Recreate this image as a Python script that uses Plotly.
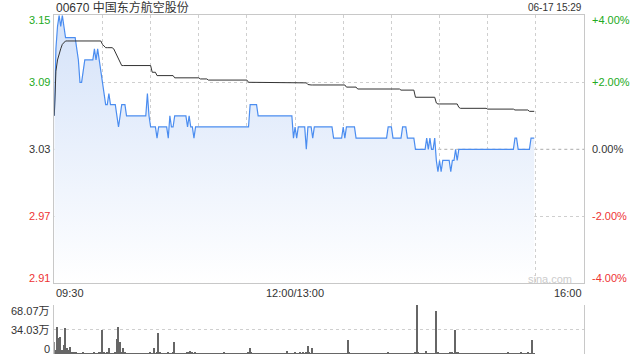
import plotly.graph_objects as go

title_text = "00670 中国东方航空股份"
timestamp = "06-17 15:29"
prev_close = 3.03
price_ticks = [3.15, 3.09, 3.03, 2.97, 2.91]
price_tick_labels = ["3.15", "3.09", "3.03", "2.97", "2.91"]
pct_tick_labels = ["+4.00%", "+2.00%", "0.00%", "-2.00%", "-4.00%"]
vol_ticks = [0, 34.03, 68.07]
vol_tick_labels = ["0", "34.03万", "68.07万"]
time_ticks = [0, 150, 330]
time_labels = ["09:30", "12:00/13:00", "16:00"]

# minute index: 0 = 09:30, 150 = 12:00/13:00, 299 = 15:29
minutes = list(range(300))

price = [
    3.06, 3.12, 3.14, 3.15, 3.14, 3.15, 3.14, 3.13, 3.13, 3.13, 3.13, 3.13, 3.13, 3.13, 3.12, 3.11, 3.09, 3.09, 3.10, 3.11,
    3.11, 3.11, 3.11, 3.11, 3.11, 3.12, 3.11, 3.12, 3.11, 3.10, 3.09, 3.08, 3.07, 3.07, 3.08, 3.07, 3.07, 3.07, 3.07, 3.06,
    3.05, 3.06, 3.07, 3.07, 3.07, 3.06, 3.06, 3.06, 3.06, 3.06, 3.06, 3.06, 3.06, 3.06, 3.06, 3.06, 3.06, 3.06, 3.08, 3.06,
    3.05, 3.05, 3.05, 3.05, 3.04, 3.05, 3.05, 3.05, 3.05, 3.05, 3.05, 3.04, 3.06, 3.05, 3.05, 3.06, 3.06, 3.06, 3.06, 3.06,
    3.06, 3.06, 3.06, 3.05, 3.06, 3.05, 3.05, 3.04, 3.05, 3.05, 3.05, 3.05, 3.05, 3.05, 3.05, 3.05, 3.05, 3.05, 3.05, 3.05,
    3.05, 3.05, 3.05, 3.05, 3.05, 3.05, 3.05, 3.05, 3.05, 3.05, 3.05, 3.05, 3.05, 3.05, 3.05, 3.05, 3.05, 3.05, 3.05, 3.05,
    3.05, 3.05, 3.07, 3.07, 3.07, 3.07, 3.07, 3.06, 3.06, 3.06, 3.06, 3.06, 3.06, 3.06, 3.06, 3.06, 3.06, 3.06, 3.06, 3.06,
    3.06, 3.06, 3.06, 3.06, 3.06, 3.06, 3.06, 3.06, 3.06, 3.04, 3.05, 3.04, 3.05, 3.05, 3.05, 3.05, 3.05, 3.03, 3.05, 3.05,
    3.05, 3.04, 3.05, 3.05, 3.05, 3.05, 3.05, 3.05, 3.05, 3.05, 3.05, 3.05, 3.05, 3.05, 3.04, 3.04, 3.04, 3.04, 3.04, 3.04,
    3.05, 3.04, 3.05, 3.05, 3.05, 3.05, 3.05, 3.05, 3.04, 3.04, 3.04, 3.04, 3.04, 3.04, 3.04, 3.04, 3.04, 3.04, 3.04, 3.04,
    3.04, 3.04, 3.04, 3.04, 3.04, 3.04, 3.04, 3.04, 3.05, 3.05, 3.05, 3.04, 3.04, 3.04, 3.04, 3.04, 3.04, 3.05, 3.05, 3.05,
    3.04, 3.04, 3.04, 3.04, 3.04, 3.03, 3.03, 3.03, 3.03, 3.03, 3.03, 3.03, 3.04, 3.03, 3.04, 3.03, 3.03, 3.04, 3.02, 3.01,
    3.02, 3.01, 3.02, 3.02, 3.02, 3.02, 3.02, 3.01, 3.02, 3.02, 3.03, 3.02, 3.03, 3.03, 3.03, 3.03, 3.03, 3.03, 3.03, 3.03,
    3.03, 3.03, 3.03, 3.03, 3.03, 3.03, 3.03, 3.03, 3.03, 3.03, 3.03, 3.03, 3.03, 3.03, 3.03, 3.03, 3.03, 3.03, 3.03, 3.03,
    3.03, 3.03, 3.03, 3.03, 3.03, 3.03, 3.03, 3.04, 3.04, 3.03, 3.03, 3.03, 3.03, 3.03, 3.03, 3.03, 3.03, 3.04, 3.04, 3.04,
]

avg_price = [
    3.060, 3.100, 3.110, 3.116, 3.120, 3.124, 3.126, 3.127, 3.127, 3.127, 3.127, 3.127, 3.127, 3.127, 3.127, 3.127, 3.127, 3.127, 3.127, 3.127,
    3.127, 3.127, 3.127, 3.127, 3.127, 3.127, 3.127, 3.127, 3.127, 3.127, 3.124, 3.122, 3.121, 3.121, 3.121, 3.121, 3.121, 3.120, 3.117, 3.113,
    3.110, 3.107, 3.105, 3.105, 3.105, 3.105, 3.105, 3.105, 3.105, 3.105, 3.105, 3.105, 3.105, 3.105, 3.105, 3.105, 3.105, 3.105, 3.105, 3.105,
    3.105, 3.099, 3.099, 3.099, 3.096, 3.096, 3.096, 3.096, 3.096, 3.096, 3.096, 3.096, 3.096, 3.096, 3.096, 3.094, 3.094, 3.094, 3.094, 3.094,
    3.094, 3.094, 3.094, 3.094, 3.094, 3.094, 3.094, 3.094, 3.094, 3.094, 3.094, 3.093, 3.093, 3.093, 3.093, 3.093, 3.092, 3.092, 3.092, 3.092,
    3.092, 3.092, 3.092, 3.092, 3.092, 3.092, 3.092, 3.092, 3.092, 3.092, 3.092, 3.092, 3.092, 3.092, 3.092, 3.092, 3.092, 3.092, 3.092, 3.092,
    3.092, 3.090, 3.090, 3.090, 3.090, 3.090, 3.090, 3.090, 3.090, 3.090, 3.090, 3.090, 3.090, 3.090, 3.090, 3.090, 3.090, 3.090, 3.090, 3.090,
    3.090, 3.090, 3.090, 3.090, 3.0895, 3.0895, 3.0895, 3.0895, 3.0895, 3.0895, 3.0895, 3.0895, 3.0895, 3.0895, 3.0895, 3.0895, 3.0895, 3.0895, 3.088, 3.0876,
    3.0876, 3.0876, 3.0876, 3.0876, 3.0876, 3.0876, 3.0876, 3.0876, 3.0876, 3.0876, 3.0876, 3.0876, 3.0876, 3.0876, 3.0876, 3.0876, 3.0876, 3.0876, 3.0876, 3.0876,
    3.0876, 3.0876, 3.0857, 3.0857, 3.0857, 3.0857, 3.0857, 3.0857, 3.0857, 3.084, 3.084, 3.084, 3.084, 3.084, 3.084, 3.084, 3.084, 3.084, 3.084, 3.084,
    3.084, 3.084, 3.084, 3.084, 3.084, 3.084, 3.084, 3.084, 3.084, 3.084, 3.084, 3.084, 3.084, 3.084, 3.084, 3.084, 3.083, 3.083, 3.083, 3.083,
    3.083, 3.083, 3.083, 3.083, 3.083, 3.0766, 3.0766, 3.0766, 3.0766, 3.0766, 3.0766, 3.0766, 3.0766, 3.0766, 3.0766, 3.0766, 3.0766, 3.0766, 3.0715, 3.0706,
    3.0706, 3.0706, 3.0706, 3.0706, 3.0706, 3.0706, 3.0706, 3.0706, 3.0706, 3.0706, 3.0706, 3.0706, 3.0676, 3.0667, 3.0667, 3.0667, 3.0667, 3.0667, 3.0667, 3.0667,
    3.0667, 3.0667, 3.0667, 3.0667, 3.0667, 3.0667, 3.0667, 3.0667, 3.0667, 3.0667, 3.066, 3.066, 3.066, 3.066, 3.066, 3.066, 3.066, 3.066, 3.066, 3.066,
    3.066, 3.066, 3.066, 3.066, 3.066, 3.066, 3.066, 3.0652, 3.0652, 3.0652, 3.0652, 3.0652, 3.0652, 3.0652, 3.0652, 3.0652, 3.064, 3.064, 3.064, 3.064,
]

# volume in 万 shares
volume = [
    17, 6, 38, 22, 23, 6, 12.5, 36, 9, 5, 10, 2, 1.5, 3, 2, 1, 1.2, 0.8, 1.5, 1,
    0.8, 1, 1.2, 0.9, 1, 1.5, 0.8, 1, 2, 3, 33, 1.5, 1, 2, 8, 1, 0.8, 1.2, 1.5, 21,
    38, 17, 2, 9, 1.5, 1, 0.8, 1, 1.2, 0.9, 0.8, 1, 0.7, 1, 1.1, 0.8, 1, 0.9, 1.2, 1,
    1.5, 1, 9, 1.2, 2, 29, 3, 1, 0.8, 1, 1.2, 2, 1, 0.9, 1.5, 17, 1.2, 1, 0.8, 1,
    0.9, 1, 1.2, 1.5, 3, 3.5, 3, 1.2, 2, 1, 0.8, 1, 0.9, 1.1, 0.8, 1, 0.7, 1, 0.9, 1,
    0.8, 1, 1.2, 0.9, 1, 1.1, 2, 1, 0.8, 1.2, 1, 0.9, 0.8, 1, 1.1, 0.9, 1, 1.2, 0.8, 1,
    1, 1.5, 9, 2, 1, 0.8, 1, 1.2, 0.9, 1, 0.8, 1.1, 1, 0.9, 0.8, 1, 1.2, 0.9, 1, 0.8,
    1, 0.9, 1.1, 1, 1.2, 4, 1, 0.8, 1, 0.9, 1.5, 1, 1.2, 2, 1, 1.5, 1.2, 2, 11, 2,
    1, 8, 1.2, 1, 0.9, 1, 0.8, 1.1, 1, 0.9, 1, 0.8, 1, 1.2, 0.9, 1, 0.8, 1, 0.9, 1.1,
    1, 0.9, 1.2, 20, 1.5, 1, 0.8, 1, 0.9, 1.1, 1, 0.8, 1, 0.9, 1.2, 1, 0.8, 1, 0.9, 1,
    1.1, 0.9, 1, 0.8, 1.2, 1, 0.9, 1, 1.5, 1, 0.8, 1, 0.9, 1.1, 1, 0.8, 1.2, 1, 0.9, 1,
    0.8, 1, 1.2, 0.9, 1, 1.5, 68.07, 2, 1, 0.9, 1.2, 1, 4, 1, 0.8, 1, 0.9, 1.2, 60, 1.5,
    1, 0.9, 1, 1.2, 0.8, 1, 1.1, 1.5, 2, 1.2, 33, 3, 1.5, 1, 0.8, 1, 0.9, 1.1, 1, 0.8,
    1, 0.9, 1.2, 1, 0.8, 1, 0.9, 1.1, 1, 0.8, 1, 0.9, 1.2, 1, 0.8, 1, 0.9, 1, 1.1, 0.8,
    1, 0.9, 1.2, 1.5, 1, 0.8, 1, 0.9, 1.2, 1, 0.8, 1.5, 1, 0.9, 1.2, 1.5, 1, 0.8, 19.5, 1.2,
]

GREEN = "#22aa22"
RED = "#ee3333"
DARK = "#333333"
FONT = "Liberation Sans, Arial, Noto Sans CJK SC, sans-serif"
W, H = 640, 360
PL, PR = 54.3, 584.0
MAIN_TOP, MAIN_BOT = 15.3, 283.3
VOL_TOP, VOL_BOT = 305.0, 354.0

fig = go.Figure()
fig.add_trace(go.Scatter(
    x=minutes, y=price, mode="lines",
    line=dict(color="#4b8df0", width=1.2),
    fill="tozeroy",
    fillgradient=dict(type="vertical",
                      colorscale=[[0, "rgba(255,255,255,1)"], [1, "rgba(212,226,249,1)"]],
                      start=price_ticks[-1], stop=price_ticks[0]),
    xaxis="x", yaxis="y", hoverinfo="skip", showlegend=False,
))
fig.add_trace(go.Scatter(
    x=minutes, y=avg_price, mode="lines",
    line=dict(color="#333333", width=1),
    xaxis="x", yaxis="y", hoverinfo="skip", showlegend=False,
))
fig.add_trace(go.Bar(
    x=minutes, y=volume, marker=dict(color="#666666", line=dict(width=0)),
    width=0.65, xaxis="x2", yaxis="y2", hoverinfo="skip", showlegend=False,
))

xdom = [PL / W, PR / W]
grid_x = list(range(0, 331, 30))
fig.update_layout(
    width=W, height=H, margin=dict(l=0, r=0, t=0, b=0),
    paper_bgcolor="white", plot_bgcolor="white",
    font=dict(family=FONT, size=11, color=DARK),
    xaxis=dict(domain=xdom, range=[0, 330], tickvals=grid_x, showticklabels=False,
               ticks="", showgrid=True, gridcolor="#cfcfcf", griddash="dot", gridwidth=1,
               showline=True, mirror=True, linecolor="#c8c8c8", linewidth=1,
               zeroline=False, anchor="y"),
    yaxis=dict(domain=[1 - MAIN_BOT / H, 1 - MAIN_TOP / H], range=[price_ticks[-1], price_ticks[0]],
               tickvals=[price_ticks[1], price_ticks[3]], showticklabels=False, ticks="",
               showgrid=True, gridcolor="#cfcfcf", griddash="dot", gridwidth=1,
               showline=True, mirror=True, linecolor="#c8c8c8", linewidth=1,
               zeroline=False, anchor="x"),
    xaxis2=dict(domain=xdom, range=[0, 330], showticklabels=False, ticks="",
                showgrid=False, showline=False, zeroline=False, anchor="y2"),
    yaxis2=dict(domain=[1 - VOL_BOT / H, 1 - VOL_TOP / H], range=[0, vol_ticks[-1]],
                tickvals=vol_ticks, showticklabels=False, ticks="",
                showgrid=True, gridcolor="#cfcfcf", griddash="dot", gridwidth=1,
                showline=True, mirror=True, linecolor="#c8c8c8", linewidth=1,
                zeroline=False, anchor="x2"),
    bargap=0,
)

fig.add_shape(type="line", xref="x", yref="y", x0=0, x1=330, y0=prev_close, y1=prev_close,
              line=dict(color="#aaaaaa", width=1, dash="3px,3px"), layer="below")

annotations = []
left_x = 51.5 / W
right_x = 589.5 / W
shifts = [-5, 0, 0, 0, 5]
for i, (v, lab, pct) in enumerate(zip(price_ticks, price_tick_labels, pct_tick_labels)):
    if v > prev_close:
        col = GREEN
    elif v < prev_close:
        col = RED
    else:
        col = DARK
    annotations.append(dict(x=left_x, y=v, xref="paper", yref="y", text=lab, showarrow=False,
                            xanchor="right", yanchor="middle", yshift=shifts[i],
                            font=dict(size=11, color=col)))
    annotations.append(dict(x=right_x, y=v, xref="paper", yref="y", text=pct, showarrow=False,
                            xanchor="left", yanchor="middle", yshift=shifts[i],
                            font=dict(size=11, color=col)))

vshifts = {0: 5, 1: 0, 2: -6}
for i, (v, lab) in enumerate(zip(vol_ticks, vol_tick_labels)):
    annotations.append(dict(x=left_x, y=v, xref="paper", yref="y2", text=lab, showarrow=False,
                            xanchor="right", yanchor="middle", yshift=vshifts[i],
                            font=dict(size=11, color=DARK)))

anchors = ["left", "center", "right"]
for t, lab, anc in zip(time_ticks, time_labels, anchors):
    annotations.append(dict(x=t, y=1 - 293 / H, xref="x", yref="paper", text=lab, showarrow=False,
                            xanchor=anc, yanchor="middle", font=dict(size=11, color=DARK)))

annotations.append(dict(x=PL / W, y=1 - 7.5 / H, xref="paper", yref="paper", text=title_text,
                        showarrow=False, xanchor="left", yanchor="middle",
                        font=dict(size=12, color=DARK)))
annotations.append(dict(x=PR / W, y=1 - 7.5 / H, xref="paper", yref="paper", text=timestamp,
                        showarrow=False, xanchor="right", yanchor="middle",
                        font=dict(size=10, color=DARK)))
annotations.append(dict(x=574 / W, y=1 - 279 / H, xref="paper", yref="paper", text="sina.com",
                        showarrow=False, xanchor="right", yanchor="middle",
                        font=dict(size=11, color="#cccccc")))
fig.update_layout(annotations=annotations)

fig.write_html("out.html")
